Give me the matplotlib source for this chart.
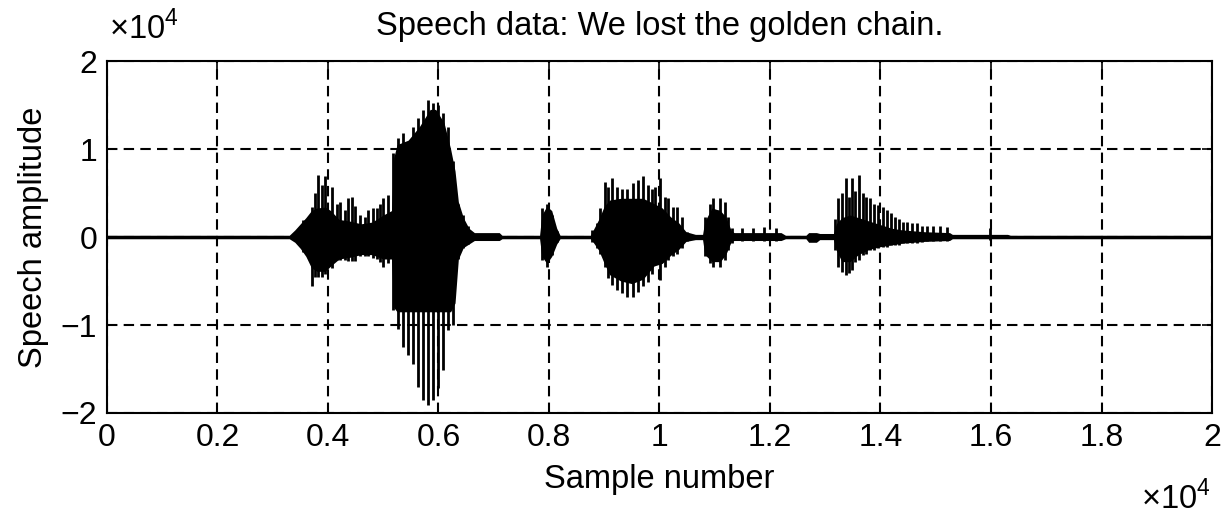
import matplotlib

matplotlib.use("Agg")

import matplotlib.pyplot as plt

plt.rcParams["font.family"] = ["Liberation Sans", "DejaVu Sans"]
plt.rcParams["mathtext.fontset"] = "custom"
plt.rcParams["mathtext.rm"] = "Liberation Sans"
plt.rcParams["axes.unicode_minus"] = True

FONT_SIZE = 23.5
TICK_SIZE = 23

# Solid body of the waveform: envelope (sample index, upper, lower amplitude)
body_pos = [0, 3300, 3400, 3500, 3600, 3700, 3800, 3950, 4050, 4200, 4400,
            4600, 4800, 5000, 5150, 5190, 5250, 5450, 5650, 5850, 5950,
            6100, 6220, 6300, 6360, 6450, 6550, 6650, 6750, 7100, 7150,
            7830, 7870, 7960, 8050, 8140, 8200, 8750, 8800, 8900, 9000,
            9100, 9300, 9500, 9700, 9900, 10050, 10200, 10350, 10480, 10650,
            10780, 10820, 10950, 11100, 11200, 11300, 11350, 12200, 12280,
            12650, 12700, 12840, 12900, 13150, 13200, 13300, 13450, 13600,
            13800, 14000, 14200, 14400, 14800, 15250, 15300, 16300, 16350,
            20000]
body_hi = [200, 200, 800, 1500, 2200, 3000, 3300, 3400, 3000, 2000, 1800,
           1500, 1700, 2500, 3000, 9000, 10500, 11000, 12500, 14500, 14500,
           13000, 10000, 7500, 4000, 2200, 1000, 500, 500, 500, 200,
           200, 2500, 3500, 3000, 1000, 200, 200, 800, 2000, 3500,
           4200, 4400, 4400, 4400, 3800, 3300, 2300, 1600, 600, 300,
           300, 1800, 3300, 3000, 2300, 700, 500, 500, 200,
           200, 500, 500, 400, 400, 1500, 2200, 2500, 2200,
           1800, 1400, 1000, 800, 600, 500, 300, 300, 200,
           200]
body_lo = [-200, -200, -600, -1300, -2200, -3500, -3900, -3900, -3300, -2500, -2300,
           -2000, -2000, -2500, -2500, -8000, -8500, -8500, -8500, -8500, -8500,
           -8500, -8500, -7500, -2500, -1200, -800, -400, -400, -400, -200,
           -200, -2200, -3000, -2200, -800, -200, -200, -600, -1500, -3000,
           -4300, -5000, -5300, -4800, -3300, -3000, -2100, -1400, -500, -300,
           -300, -2000, -2800, -2800, -2000, -500, -400, -400, -200,
           -200, -600, -600, -300, -300, -1500, -2800, -2800, -2000,
           -1400, -1100, -900, -700, -500, -400, -200, -200, -200,
           -200]

# Pitch pulse peaks (sample index, positive peak, negative peak)
pulse_pos = [3553, 3705, 3765, 3825, 3886, 3946, 4067, 4157, 4217, 4308,
             4368, 4429, 4489, 4579, 4670, 4730, 4821, 4881, 4941, 5001,
             5092, 5183, 5273, 5364, 5454, 5545, 5635, 5726, 5816, 5907,
             5997, 6088, 6178, 6269, 6359, 6450, 6540,
             7867, 7958, 8049, 8140,
             8773, 8863, 8923, 9014, 9074, 9135, 9225, 9316, 9406, 9527,
             9617, 9707, 9798, 9858, 9918, 10009, 10100, 10160, 10251, 10311,
             10401, 10492,
             10824, 10914, 10975, 11035, 11095, 11186, 11246, 11306,
             11500, 11700, 11900, 12100,
             13177, 13237, 13298, 13376, 13436, 13490, 13539, 13611, 13678,
             13738, 13810, 13883, 13961, 14040, 14112, 14185, 14263, 14340,
             14413, 14485, 14565, 14655, 14746, 14836, 14957, 15077, 15198,
             15980]
pulse_hi = [1900, 3400, 5000, 7000, 5900, 6900, 5700, 3800, 4000, 3100,
            4400, 4600, 3500, 2500, 2300, 3100, 3300, 3300, 3800, 4400,
            4800, 9500, 11200, 11800, 9900, 12500, 13500, 14400, 15600, 15200,
            15000, 14100, 12500, 8600, 3800, 2500, 1200,
            3300, 3800, 2500, 700,
            800, 1600, 3300, 6300, 5700, 6700, 5700, 5500, 5400, 6100,
            6500, 6900, 5900, 5400, 5700, 6700, 4600, 4400, 3400, 3400,
            2300, 600,
            2300, 3800, 4400, 3100, 4400, 4000, 2300, 1000,
            1000, 1000, 1100, 1000,
            2100, 4400, 5000, 6700, 4600, 6700, 5200, 7000, 5000,
            4600, 4400, 3800, 3600, 3400, 3100, 2700, 2300, 2100,
            1700, 1700, 1600, 1600, 1300, 1200, 1200, 1200, 1100,
            1000]
pulse_lo = [-1700, -5600, -4500, -4500, -4500, -4200, -3500, -2600, -2600, -2600,
            -2700, -2700, -2700, -2200, -2200, -2200, -2400, -2500, -2800, -3400,
            -3000, -8300, -10400, -12500, -13400, -14400, -17000, -18500, -19100, -18500,
            -17200, -15100, -10600, -10000, -2500, -1200, -800,
            -2600, -3400, -2000, -600,
            -600, -1300, -1900, -3400, -4700, -5500, -6000, -6400, -6800, -6800,
            -6300, -5600, -5100, -4200, -3000, -4900, -3400, -2600, -2200, -1900,
            -1300, -500,
            -2200, -3000, -3400, -2600, -3400, -2600, -1500, -700,
            -500, -500, -500, -500,
            -1500, -3400, -4000, -4300, -4100, -3800, -2800, -2600, -2100,
            -1900, -1500, -1500, -1300, -1100, -1100, -900, -900, -900,
            -700, -700, -700, -700, -600, -500, -500, -500, -500,
            -300]

x_ticks = [0, 2000, 4000, 6000, 8000, 10000, 12000, 14000, 16000, 18000, 20000]
x_tick_labels = ["0", "0.2", "0.4", "0.6", "0.8", "1", "1.2", "1.4", "1.6", "1.8", "2"]
y_ticks = [-20000, -10000, 0, 10000, 20000]
y_tick_labels = ["\u22122", "\u22121", "0", "1", "2"]

fig = plt.figure(figsize=(12.25, 5.14), dpi=100)
ax = fig.add_axes([0.0873, 0.1965, 0.9021, 0.6848])

ax.fill_between(body_pos, body_lo, body_hi, color="black", linewidth=0, zorder=3)
ax.vlines(pulse_pos, pulse_lo, pulse_hi, color="black", linewidth=2.0, zorder=3)

ax.set_xlim(0, 20000)
ax.set_ylim(-20000, 20000)
ax.set_xticks(x_ticks)
ax.set_xticklabels(x_tick_labels)
ax.set_yticks(y_ticks)
ax.set_yticklabels(y_tick_labels)
ax.tick_params(direction="in", length=7, width=1.2, top=True, right=True,
               labelsize=TICK_SIZE, pad=7, colors="black")
ax.grid(True, color="black", linestyle=(0, (5, 3)), linewidth=1.5)
ax.set_axisbelow(True)
for spine in ax.spines.values():
    spine.set_linewidth(1.5)
    spine.set_zorder(4)

ax.set_title("Speech data: We lost the golden chain.", fontsize=FONT_SIZE, pad=19)
ax.set_xlabel("Sample number", fontsize=FONT_SIZE, labelpad=8)
ax.set_ylabel("Speech amplitude", fontsize=FONT_SIZE, labelpad=8)

fig.text(0.089, 0.945, "\u00d710$^{4}$", fontsize=FONT_SIZE, ha="left", va="center")
fig.text(0.988, 0.03, "\u00d710$^{4}$", fontsize=FONT_SIZE, ha="right", va="center")

fig.savefig("out.png", dpi=100, facecolor="white")
plt.close(fig)
